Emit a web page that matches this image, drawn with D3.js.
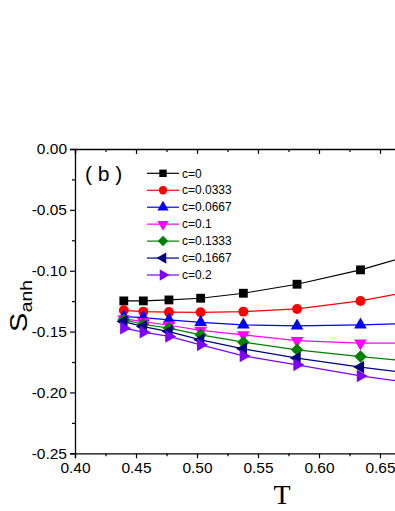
<!DOCTYPE html>
<html>
<head>
<meta charset="utf-8">
<script src="https://cdn.jsdelivr.net/npm/d3@7"></script>
<style>
  body { margin: 0; background: #fff; }
  svg { display: block; overflow: hidden; }
  .tick text { font-family: "Liberation Sans", Arial, sans-serif; }
</style>
</head>
<body>
<svg id="chart"></svg>
<script>
// values
let temps = [0.44, 0.456, 0.477, 0.503, 0.538, 0.582, 0.634, 0.69];

let sC0    = [-0.1248, -0.1248, -0.1240, -0.1226, -0.1185, -0.1111, -0.0993, -0.0830];
let sC0333 = [-0.1325, -0.1336, -0.1340, -0.1342, -0.1336, -0.1314, -0.1248, -0.1140];
let sC0667 = [-0.1377, -0.1385, -0.1404, -0.1425, -0.1445, -0.1453, -0.1445, -0.1430];
let sC1    = [-0.1395, -0.1418, -0.1448, -0.1490, -0.1527, -0.1574, -0.1595, -0.1595];
let sC1333 = [-0.1404, -0.1440, -0.1472, -0.1527, -0.1587, -0.1650, -0.1705, -0.1760];
let sC1667 = [-0.1418, -0.1459, -0.1500, -0.1568, -0.1642, -0.1718, -0.1792, -0.1860];
let sC2    = [-0.1472, -0.1505, -0.1540, -0.1609, -0.1700, -0.1773, -0.1864, -0.1940];

let seriesNames = ["c=0", "c=0.0333", "c=0.0667", "c=0.1", "c=0.1333", "c=0.1667", "c=0.2"];
let seriesValues = [sC0, sC0333, sC0667, sC1, sC1333, sC1667, sC2];

let xTicks = [0.40, 0.45, 0.50, 0.55, 0.60, 0.65, 0.70];
let yTicks = [0.00, -0.05, -0.10, -0.15, -0.20, -0.25];

let colors = ["#000000", "#ff0000", "#0000ff", "#ff00ff", "#008000", "#000080", "#8000ff"];
// shape + rotation for each series marker
let shapes = [
    { s: d3.symbolSquare, r: 0 },
    { s: d3.symbolCircle, r: 0 },
    { s: d3.symbolTriangle, r: 0 },
    { s: d3.symbolTriangle, r: 180 },
    { s: d3.symbolSquare, r: 45 },
    { s: d3.symbolTriangle, r: -90 },
    { s: d3.symbolTriangle, r: 90 }
];

let width = 395, height = 511;

let svg = d3.select("#chart")
    .attr("width", width)
    .attr("height", height);

// plot area runs on past the right edge of the picture
let x = d3.scaleLinear().domain([0.40, 0.70]).range([75, 441]);
let y = d3.scaleLinear().domain([-0.25, 0]).range([453.3, 149]);

let fmt = d => d3.format(".2f")(d).replace("\u2212", "-");

// minor ticks
let xMinor = d3.range(0.425, 0.70, 0.05);
let yMinor = d3.range(-0.025, -0.25, -0.05);

svg.append("g")
    .attr("transform", "translate(0," + y(-0.25) + ")")
    .call(d3.axisBottom(x).tickValues(xTicks).tickSize(5).tickPadding(4).tickFormat(fmt))
    .call(g => g.selectAll("text").attr("font-size", 15.5).attr("fill", "#000"));

svg.append("g")
    .attr("transform", "translate(0," + y(-0.25) + ")")
    .call(d3.axisBottom(x).tickValues(xMinor).tickSize(3).tickFormat(""))
    .call(g => g.select(".domain").remove());

svg.append("g")
    .attr("transform", "translate(0," + y(0) + ")")
    .call(d3.axisBottom(x).tickValues(xTicks).tickSize(5).tickFormat(""));

svg.append("g")
    .attr("transform", "translate(0," + y(0) + ")")
    .call(d3.axisBottom(x).tickValues(xMinor).tickSize(3).tickFormat(""))
    .call(g => g.select(".domain").remove());

svg.append("g")
    .attr("transform", "translate(" + x(0.40) + ",0)")
    .call(d3.axisLeft(y).tickValues(yTicks).tickSize(5).tickPadding(3).tickFormat(fmt))
    .call(g => g.selectAll("text").attr("font-size", 15.5).attr("fill", "#000"));

svg.append("g")
    .attr("transform", "translate(" + x(0.40) + ",0)")
    .call(d3.axisLeft(y).tickValues(yMinor).tickSize(3).tickFormat(""))
    .call(g => g.select(".domain").remove());

svg.selectAll(".domain").attr("stroke-width", 1.3);
svg.selectAll(".tick line").attr("stroke-width", 1.2);

// series
let line = d3.line()
    .x(d => x(d[0]))
    .y(d => y(d[1]));

seriesValues.forEach(function (vals, i) {
    let pts = temps.map((t, j) => [t, vals[j]]);
    let g = svg.append("g").attr("class", "series");
    g.append("path")
        .datum(pts)
        .attr("d", line)
        .attr("fill", "none")
        .attr("stroke", colors[i])
        .attr("stroke-width", 1.2);
    let sym = d3.symbol().type(shapes[i].s).size(shapes[i].s == d3.symbolTriangle ? 70 : 78);
    g.selectAll("path.mk")
        .data(pts)
        .enter()
        .append("path")
        .attr("class", "mk")
        .attr("d", sym)
        .attr("transform", d => "translate(" + x(d[0]) + "," + y(d[1]) + ")rotate(" + shapes[i].r + ")")
        .attr("fill", colors[i]);
});

// legend
let legend = svg.append("g").attr("transform", "translate(147,173.3)");
seriesNames.forEach(function (name, i) {
    let row = legend.append("g").attr("transform", "translate(0," + i * 16.95 + ")");
    row.append("line")
        .attr("x1", 0).attr("x2", 32)
        .attr("stroke", colors[i])
        .attr("stroke-width", 1.2);
    let sym = d3.symbol().type(shapes[i].s).size(55);
    row.append("path")
        .attr("d", sym)
        .attr("transform", "translate(16,0)rotate(" + shapes[i].r + ")")
        .attr("fill", colors[i]);
    row.append("text")
        .attr("x", 35)
        .attr("y", 4.2)
        .attr("font-family", "Liberation Sans, Arial, sans-serif")
        .attr("font-size", 12)
        .text(name);
});

// panel tag
svg.append("text")
    .attr("x", 85)
    .attr("y", 181)
    .attr("font-family", "Liberation Sans, Arial, sans-serif")
    .attr("font-size", 21)
    .attr("xml:space", "preserve")
    .text("( b )");

// axis titles (the original lettering is a little wide)
let yTitle = svg.append("g")
    .attr("transform", "translate(27,332)rotate(-90)scale(1.2,1)");
yTitle.append("text")
    .attr("font-family", "Liberation Sans, Arial, sans-serif")
    .attr("font-size", 24)
    .text("S");
yTitle.append("text")
    .attr("x", 16.5)
    .attr("y", 5)
    .attr("font-family", "Liberation Sans, Arial, sans-serif")
    .attr("font-size", 16)
    .text("anh");

svg.append("text")
    .attr("x", 282)
    .attr("y", 504)
    .attr("text-anchor", "middle")
    .attr("font-family", "Liberation Serif, Times New Roman, serif")
    .attr("font-size", 28)
    .text("T");
</script>
</body>
</html>
